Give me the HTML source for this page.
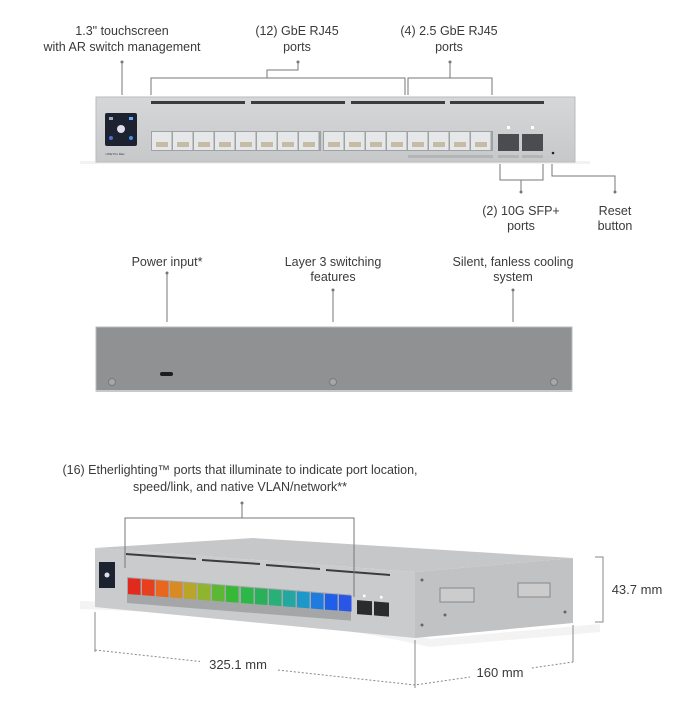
<!DOCTYPE html>
<html><head><meta charset="utf-8"><style>
html,body{margin:0;padding:0;background:#fff;}
svg{display:block}
text{font-family:"Liberation Sans",sans-serif;font-size:12.5px;fill:#3a3a3a;text-anchor:middle}
</style></head><body>
<svg width="692" height="720" viewBox="0 0 692 720">
<defs>
<linearGradient id="tg" x1="0" y1="0" x2="0" y2="1"><stop offset="0" stop-color="#d6d7d9"/><stop offset="1" stop-color="#c6c8ca"/></linearGradient>
</defs>
<text x="122" y="35">1.3" touchscreen</text>
<text x="122" y="51">with AR switch management</text>
<text x="297" y="35">(12) GbE RJ45</text>
<text x="297" y="51">ports</text>
<text x="449" y="35">(4) 2.5 GbE RJ45</text>
<text x="449" y="51">ports</text>
<g stroke="#777" stroke-width="1" fill="none">
<path d="M122 62V95"/>
<path d="M151 95V78H405V95M267 78V70H298V62"/>
<path d="M408 95V78H492V95M450 78V62"/>
<path d="M500 162V180H543V162M521 180V192"/>
<path d="M552 162V176H615V192"/>
</g>
<g fill="#777"><circle cx="122" cy="62" r="1.5"/><circle cx="298" cy="62" r="1.5"/><circle cx="450" cy="62" r="1.5"/><circle cx="521" cy="192" r="1.5"/><circle cx="615" cy="192" r="1.5"/></g>
<rect x="80" y="161" width="510" height="3" fill="#f2f2f2"/>
<rect x="96" y="97" width="479" height="65" fill="url(#tg)" stroke="#b9bbbd"/>
<g fill="#3b3c3e"><rect x="151" y="101" width="94" height="3"/><rect x="251" y="101" width="94" height="3"/><rect x="351" y="101" width="94" height="3"/><rect x="450" y="101" width="94" height="3"/></g>
<rect x="105" y="113" width="32" height="33" rx="2" fill="#1d2230"/>
<circle cx="121" cy="129" r="4" fill="#dde"/><circle cx="111" cy="138" r="2" fill="#4a6fd0"/><circle cx="131" cy="138" r="2" fill="#4a8fe0"/>
<rect x="109" y="117" width="4" height="3" fill="#9ab"/><rect x="129" y="117" width="4" height="3" fill="#6af"/>
<text x="115" y="155" style="font-size:3px;fill:#333">USW Pro Max</text>
<rect x="151" y="131" width="170" height="20" fill="#9fa2a5"/>
<rect x="323" y="131" width="170" height="20" fill="#9fa2a5"/>
<g fill="#e6e7e8">
<rect x="152" y="132" width="19.5" height="18"/><rect x="173" y="132" width="19.5" height="18"/><rect x="194" y="132" width="19.5" height="18"/><rect x="215" y="132" width="19.5" height="18"/><rect x="236" y="132" width="19.5" height="18"/><rect x="257" y="132" width="19.5" height="18"/><rect x="278" y="132" width="19.5" height="18"/><rect x="299" y="132" width="19.5" height="18"/>
<rect x="324" y="132" width="19.5" height="18"/><rect x="345" y="132" width="19.5" height="18"/><rect x="366" y="132" width="19.5" height="18"/><rect x="387" y="132" width="19.5" height="18"/><rect x="408" y="132" width="19.5" height="18"/><rect x="429" y="132" width="19.5" height="18"/><rect x="450" y="132" width="19.5" height="18"/><rect x="471" y="132" width="19.5" height="18"/>
</g>
<g fill="#b9a98a" opacity="0.7">
<rect x="156" y="142" width="12" height="5"/><rect x="177" y="142" width="12" height="5"/><rect x="198" y="142" width="12" height="5"/><rect x="219" y="142" width="12" height="5"/><rect x="240" y="142" width="12" height="5"/><rect x="261" y="142" width="12" height="5"/><rect x="282" y="142" width="12" height="5"/><rect x="303" y="142" width="12" height="5"/>
<rect x="328" y="142" width="12" height="5"/><rect x="349" y="142" width="12" height="5"/><rect x="370" y="142" width="12" height="5"/><rect x="391" y="142" width="12" height="5"/><rect x="412" y="142" width="12" height="5"/><rect x="433" y="142" width="12" height="5"/><rect x="454" y="142" width="12" height="5"/><rect x="475" y="142" width="12" height="5"/>
</g>
<rect x="498" y="134" width="21" height="17" fill="#4a4c4f"/><rect x="522" y="134" width="21" height="17" fill="#4a4c4f"/>
<rect x="507" y="126" width="3" height="3" fill="#fff"/><rect x="531" y="126" width="3" height="3" fill="#fff"/>
<g fill="#b3b5b7"><rect x="408" y="155" width="55" height="3"/><rect x="455" y="155" width="38" height="3"/><rect x="498" y="155" width="21" height="3"/><rect x="522" y="155" width="21" height="3"/></g>
<circle cx="553" cy="153" r="1.3" fill="#222"/>
<text x="521" y="215">(2) 10G SFP+</text>
<text x="521" y="230">ports</text>
<text x="615" y="215">Reset</text>
<text x="615" y="230">button</text>
<text x="167" y="266">Power input*</text>
<text x="333" y="266">Layer 3 switching</text>
<text x="333" y="281">features</text>
<text x="513" y="266">Silent, fanless cooling</text>
<text x="513" y="281">system</text>
<g stroke="#777"><path d="M167 273V322M333 290V322M513 290V322"/></g>
<g fill="#777"><circle cx="167" cy="273" r="1.5"/><circle cx="333" cy="290" r="1.5"/><circle cx="513" cy="290" r="1.5"/></g>
<rect x="96" y="327" width="476" height="64" fill="#909193" stroke="#b9bbbd"/>
<rect x="96" y="390" width="476" height="2" fill="#c8c9ca"/>
<rect x="160" y="372" width="13" height="4" rx="2" fill="#1e1e1e"/>
<g fill="#a6a7a9" stroke="#7a7b7d"><circle cx="112" cy="382" r="3.5"/><circle cx="333" cy="382" r="3.5"/><circle cx="554" cy="382" r="3.5"/></g>
<text x="240" y="474">(16) Etherlighting™ ports that illuminate to indicate port location,</text>
<text x="240" y="491">speed/link, and native VLAN/network**</text>
<path d="M80 605Q300 612 430 643L600 628" stroke="#f3f3f3" stroke-width="8" fill="none"/>
<polygon points="95,548 253,538 573,558 415,572" fill="#c6c7c9"/>
<polygon points="415,572 573,558 573,623 415,638" fill="#c0c2c4"/>
<polygon points="95,548 415,572 415,638 95,607" fill="#cacbcd"/>
<g fill="#3b3c3e">
<polygon points="126,553 196,558 196,560 126,555"/><polygon points="202,559 260,563 260,565 202,561"/><polygon points="266,564 320,568 320,570 266,566"/><polygon points="326,569 390,574 390,576 326,571"/>
</g>
<g stroke="#888" fill="#ccc"><rect x="440" y="588" width="34" height="14"/><rect x="518" y="583" width="32" height="14"/></g>
<g fill="#666"><circle cx="422" cy="580" r="1.5"/><circle cx="422" cy="625" r="1.5"/><circle cx="445" cy="615" r="1.5"/><circle cx="565" cy="612" r="1.5"/></g>
<rect x="99" y="562" width="16" height="26" fill="#1d2230"/>
<circle cx="107" cy="575" r="2.5" fill="#dde"/>
<rect x="127" y="577" width="224" height="26" fill="#a4a6a8" transform="skewY(4.5) translate(0,-10)"/>
<g transform="skewY(4.5) translate(0,-10)">
<rect x="128" y="578" width="12.5" height="16" fill="#e12a1e"/>
<rect x="142" y="578" width="12.5" height="16" fill="#e8401e"/>
<rect x="156" y="578" width="12.5" height="16" fill="#e8661e"/>
<rect x="170" y="578" width="12.5" height="16" fill="#d88a24"/>
<rect x="184" y="578" width="12.5" height="16" fill="#b8a52a"/>
<rect x="198" y="578" width="12.5" height="16" fill="#8fb52e"/>
<rect x="212" y="578" width="12.5" height="16" fill="#5cb832"/>
<rect x="226" y="578" width="12.5" height="16" fill="#38b838"/>
<rect x="241" y="578" width="12.5" height="16" fill="#2cb848"/>
<rect x="255" y="578" width="12.5" height="16" fill="#2ab05a"/>
<rect x="269" y="578" width="12.5" height="16" fill="#28b078"/>
<rect x="283" y="578" width="12.5" height="16" fill="#22a8a0"/>
<rect x="297" y="578" width="12.5" height="16" fill="#1e98c8"/>
<rect x="311" y="578" width="12.5" height="16" fill="#1e7ce0"/>
<rect x="325" y="578" width="12.5" height="16" fill="#1e5ee8"/>
<rect x="339" y="578" width="12.5" height="16" fill="#2a56e8"/>
<rect x="357" y="582" width="15" height="14" fill="#2a2b2d"/>
<rect x="374" y="582" width="15" height="14" fill="#2a2b2d"/>
<rect x="363" y="576" width="2.5" height="2.5" fill="#fff"/><rect x="380" y="576" width="2.5" height="2.5" fill="#fff"/>
</g>
<g stroke="#777" fill="none">
<path d="M125 568V518H354V597M242 518V503"/>
</g>
<circle cx="242" cy="503" r="1.5" fill="#777"/>
<g stroke="#888" fill="none">
<path d="M595 557H603V622H595"/>
<path d="M95 612V652M415 640V688M573 625V662"/>
<path d="M95 650L415 685L573 662" stroke-dasharray="2,2"/>
</g>
<rect x="200" y="650" width="78" height="24" fill="#fff"/>
<rect x="470" y="660" width="60" height="24" fill="#fff"/>
<text x="238" y="669" style="font-size:13px">325.1 mm</text>
<text x="500" y="677" style="font-size:13px">160 mm</text>
<text x="637" y="594" style="font-size:13px">43.7 mm</text>
</svg>
</body></html>
